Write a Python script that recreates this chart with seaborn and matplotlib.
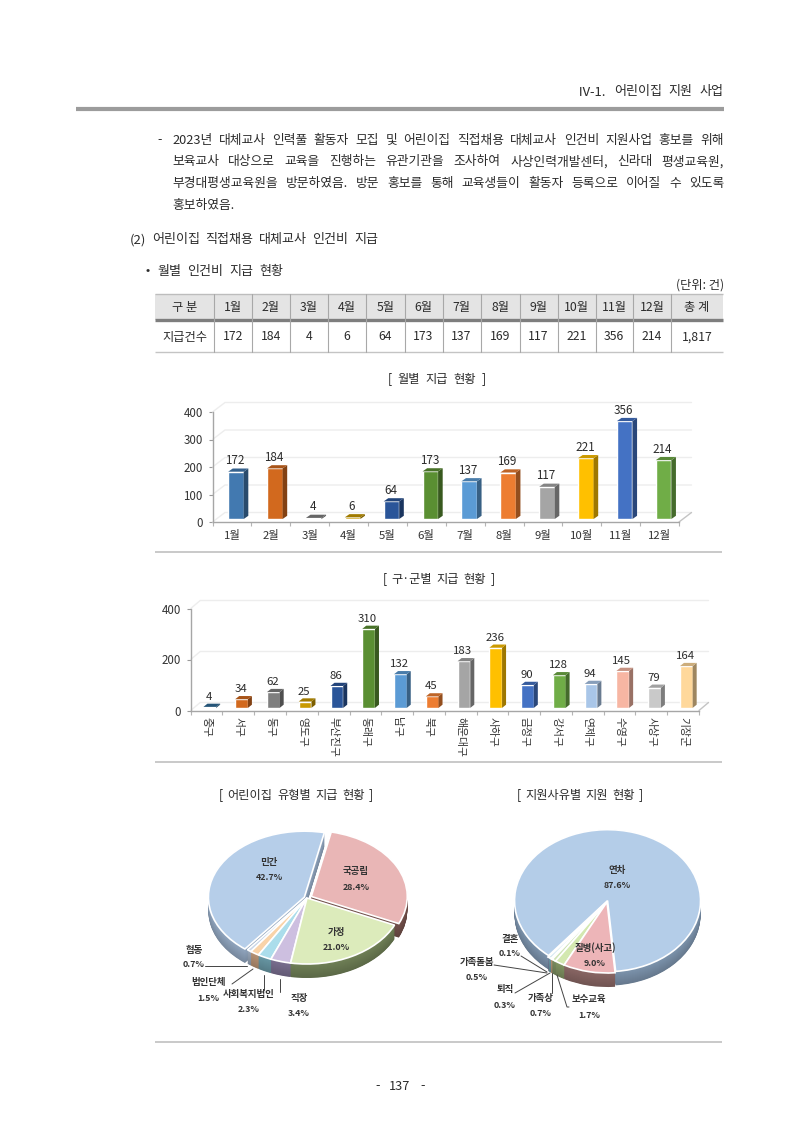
import matplotlib
matplotlib.use("Agg")
import matplotlib.pyplot as plt
import matplotlib.colors as mcolors
from matplotlib.patches import Polygon, Rectangle
from matplotlib.transforms import Affine2D, IdentityTransform
import seaborn as sns

W, H = 800, 1131
FONT = ['Noto Sans CJK KR', 'DejaVu Sans']

# Monthly payments
months = ['1월', '2월', '3월', '4월', '5월', '6월', '7월', '8월', '9월', '10월', '11월', '12월']
monthly_counts = [172, 184, 4, 6, 64, 173, 137, 169, 117, 221, 356, 214]
monthly_colors = ['#4279B0', '#D2691E', '#7F7F7F', '#C99A00', '#2A5599', '#5A8F32',
                  '#5B9BD5', '#ED7D31', '#A5A5A5', '#FFC000', '#4472C4', '#70AD47']

# Payments by district
districts = ['중구', '서구', '동구', '영도구', '부산진구', '동래구', '남구', '북구',
             '해운대구', '사하구', '금정구', '강서구', '연제구', '수영구', '사상구', '기장군']
district_counts = [4, 34, 62, 25, 86, 310, 132, 45, 183, 236, 90, 128, 94, 145, 79, 164]
district_colors = ['#2E6A96', '#D2691E', '#7F7F7F', '#C99A00', '#2A5599', '#5A8F32',
                   '#5B9BD5', '#ED7D31', '#A5A5A5', '#FFC000', '#4472C4', '#70AD47',
                   '#A9C6E8', '#F7B6A3', '#C9C9C9', '#FFD89B']

# Daycare types
type_names = ['민간', '협동', '법인단체', '사회복지법인', '직장', '가정', '국공립']
type_shares = [42.7, 0.7, 1.5, 2.3, 3.4, 21.0, 28.4]
type_colors = ['#B6CEE9', '#C9D6E8', '#F9D3A8', '#ABDDEB', '#CDBFE0', '#DCEBBB', '#E9B6B6']
type_sides = ['#8598AF', '#8A97A8', '#A8866A', '#5F8A96', '#6F6583', '#66754F', '#6A4A45']

# Support reasons
reason_names = ['연차', '결혼', '가족돌봄', '퇴직', '가족상', '보수교육', '질병(사고)']
reason_shares = [87.6, 0.1, 0.5, 0.3, 0.7, 1.7, 9.0]
reason_colors = ['#B4CDE8', '#C9B8D8', '#B8D8E8', '#E8D0B0', '#CFE3B8', '#D3E8B0', '#EDB5B8']
reason_sides = ['#72879E', '#6F6583', '#5F8A96', '#A8866A', '#6F8058', '#76875A', '#7E5E5C']

sns.set_theme(style='white')
plt.rcParams['font.family'] = FONT
plt.rcParams['axes.unicode_minus'] = False

fig = plt.figure(figsize=(W / 100, H / 100), dpi=100, facecolor='white')
page = fig.add_axes([0, 0, 1, 1], zorder=5)
page.set_xlim(0, W)
page.set_ylim(H, 0)
page.axis('off')
renderer = fig.canvas.get_renderer()

TEXT = '#2b2b2b'


def spread(words, x0, x1, y, size=9.2, color=TEXT):
    """Set a line of words so that it fills x0..x1 by widening the gaps."""
    items = [page.text(x0, y, w, fontsize=size, color=color, va='center', ha='left') for w in words]
    widths = [t.get_window_extent(renderer).width for t in items]
    gap = (x1 - x0 - sum(widths)) / max(len(words) - 1, 1)
    x = x0
    for t, w in zip(items, widths):
        t.set_x(x)
        x += w + gap


def rule(x0, x1, y, color='#C9C9C9', lw=1.4):
    page.plot([x0, x1], [y, y], color=color, lw=lw, solid_capstyle='butt')


def shade(color, k):
    r, g, b = mcolors.to_rgb(color)
    return (r * k, g * k, b * k)


# Running head and body copy
spread('Ⅳ-1. 어린이집 지원 사업'.split(), 578, 724, 92, size=9.4)
rule(76, 724, 109, color='#9C9C9C', lw=3.0)
page.text(157, 140, '-', fontsize=9, color=TEXT, va='center')
spread('2023년 대체교사 인력풀 활동자 모집 및 어린이집 직접채용 대체교사 인건비 지원사업 홍보를 위해'.split(), 172, 724, 140.5)
spread('보육교사 대상으로 교육을 진행하는 유관기관을 조사하여 사상인력개발센터, 신라대 평생교육원,'.split(), 172, 724, 162)
spread('부경대평생교육원을 방문하였음. 방문 홍보를 통해 교육생들이 활동자 등록으로 이어질 수 있도록'.split(), 172, 724, 183.5)
page.text(172, 205, '홍보하였음.', fontsize=9.2, color=TEXT, va='center')
spread('(2) 어린이집 직접채용 대체교사 인건비 지급'.split(), 130, 378, 240, size=9.4)
page.text(145, 271, '•', fontsize=9, color=TEXT, va='center')
spread('월별 인건비 지급 현황'.split(), 157, 283, 271, size=9.4)
page.text(724, 285, '(단위: 건)', fontsize=8.8, color=TEXT, va='center', ha='right')

# Summary table
col_edges = [155, 214, 252, 290, 328, 366, 404.5, 442.5, 480.5, 519.5, 557.5, 595.5, 633, 671, 723]
head_cells = ['구 분'] + months + ['총 계']
row_cells = ['지급건수'] + [str(v) for v in monthly_counts] + [f'{sum(monthly_counts):,}']
page.add_patch(Rectangle((col_edges[0], 294), col_edges[-1] - col_edges[0], 25.5,
                         facecolor='#E4E4E4', edgecolor='none'))
rule(col_edges[0], col_edges[-1], 293.6, color='#BDBDBD', lw=1.0)
rule(col_edges[0], col_edges[-1], 320.3, color='#7E7E7E', lw=2.4)
rule(col_edges[0], col_edges[-1], 352, color='#C4C4C4', lw=1.0)
for x in col_edges[1:-1]:
    page.plot([x, x], [294, 352], color='#A8A8A8', lw=0.8)
for i, (h, c) in enumerate(zip(head_cells, row_cells)):
    xm = (col_edges[i] + col_edges[i + 1]) / 2
    page.text(xm, 307, h, fontsize=8.8, color=TEXT, ha='center', va='center')
    page.text(xm, 337, c, fontsize=8.8, color=TEXT, ha='center', va='center')

# Section titles and separators
spread('[ 월별 지급 현황 ]'.split(), 388, 486, 379, size=8.8)
spread('[ 구·군별 지급 현황 ]'.split(), 383, 495, 579, size=8.8)
spread('[ 어린이집 유형별 지급 현황 ]'.split(), 219, 373, 795, size=8.8)
spread('[ 지원사유별 지원 현황 ]'.split(), 517, 643, 795, size=8.8)
rule(155, 722, 552)
rule(155, 722, 762)
rule(155, 722, 1042)
spread('- 137 -'.split(), 375, 425, 1086, size=9.2)


def bar_chart(names, values, colors, box, ymax, yticks, front, depth, wall, val_size, label_gap):
    """Column chart with a faux 3D look: extruded bars over a receding wall."""
    left, right, top, bottom = box
    ax = fig.add_axes([left / W, 1 - bottom / H, (right - left) / W, (bottom - top) / H], zorder=2)
    ax.patch.set_alpha(0)
    sns.barplot(x=names, y=values, hue=names, palette=colors, legend=False, width=0.4,
                saturation=1, ax=ax, zorder=3)
    ax.set_xlim(-0.5, len(names) - 0.5)
    ax.set_ylim(0, ymax)
    ax.set_yticks(yticks)
    ax.set_xticks([i + 0.5 for i in range(-1, len(names))], minor=True)
    ax.tick_params(axis='x', which='major', length=0, pad=5, colors='#333333')
    ax.tick_params(axis='x', which='minor', length=3, width=0.8, color='#B5B5B5', bottom=True)
    ax.tick_params(axis='y', length=3, width=0.8, color='#9A9A9A', left=True, pad=4, labelsize=8.3,
                   labelcolor='#333333')
    for s in ('top', 'right'):
        ax.spines[s].set_visible(False)
    for s in ('left', 'bottom'):
        ax.spines[s].set_color('#A6A6A6')
        ax.spines[s].set_linewidth(1.0)

    # Receding wall: gridlines, floor and side edges in display space
    to_px = ax.transData.transform
    wx, wy = wall
    for t in yticks:
        x0, y0 = to_px((-0.5, t))
        x1, y1 = to_px((len(names) - 0.5, t))
        ax.plot([x0, x0 + wx, x1 + wx], [y0, y0 + wy, y1 + wy], transform=IdentityTransform(),
                color='#EDEDED', lw=1.0, clip_on=False, zorder=1)
    x1, y1 = to_px((len(names) - 0.5, 0))
    ax.plot([x1, x1 + wx], [y1, y1 + wy], transform=IdentityTransform(),
            color='#C4C4C4', lw=1.0, clip_on=False, zorder=1)

    # Bars sit a little behind the axis plane and gain a side and a top face
    shift = Affine2D().translate(*front)
    dx, dy = depth
    for bar, val, col in zip(list(ax.patches), values, colors):
        x0, y0 = to_px((bar.get_x(), 0))
        x1, y1 = to_px((bar.get_x() + bar.get_width(), val))
        x0 += front[0]
        x1 += front[0]
        y0 += front[1]
        y1 += front[1]
        bar.set_transform(ax.transData + shift)
        bar.set_clip_on(False)
        side = Polygon([(x1, y0), (x1 + dx, y0 + dy), (x1 + dx, y1 + dy), (x1, y1)],
                       facecolor=shade(col, 0.62), edgecolor='none', transform=IdentityTransform(),
                       clip_on=False, zorder=3)
        lid = Polygon([(x0, y1), (x1, y1), (x1 + dx, y1 + dy), (x0 + dx, y1 + dy)],
                      facecolor=shade(col, 0.8), edgecolor='none', transform=IdentityTransform(),
                      clip_on=False, zorder=3)
        ax.add_patch(side)
        ax.add_patch(lid)
        ax.annotate(str(val), (bar.get_x() + bar.get_width() / 2, val),
                    xytext=(front[0] - 1, front[1] + label_gap), textcoords='offset pixels',
                    ha='center', va='center', fontsize=val_size, color='#2b2b2b',
                    annotation_clip=False, zorder=4)
    return ax


ax1 = bar_chart(months, monthly_counts, monthly_colors, (212.5, 679, 412, 522), 400,
                [0, 100, 200, 300, 400], (4, 3), (4.6, 3.2), (12.5, 9.5), 8.4, 11)
ax1.tick_params(axis='x', labelsize=8.2)
ax1.tick_params(axis='x', which='major', pad=6)

ax2 = bar_chart(districts, district_counts, district_colors, (190.7, 699, 608.5, 710.5), 400,
                [0, 200, 400], (3.2, 2.6), (4, 3.2), (9.5, 8), 8.2, 10)
ax2.set_xticks(range(len(districts)))
ax2.set_xticklabels(districts, rotation=-90, fontsize=7.8, va='top', ha='center')
ax2.tick_params(axis='x', which='major', pad=5)


def slab_pie(shares, colors, sides, explode, start, centre, rx, ry, depth):
    """Flat pie squashed into an ellipse, stacked over darker copies to give it thickness."""
    cx, cy = centre
    ax = fig.add_axes([(cx - 1.25 * rx) / W, 1 - (cy + 1.6 * ry) / H,
                       2.5 * rx / W, 2.85 * ry / H], zorder=2)
    ax.patch.set_alpha(0)
    steps = int(depth * 2)
    for k in range(steps, 0, -1):
        offset = k / 2 / ry
        tone = 0.9 + 0.2 * (1 - k / steps)
        faces = [tuple(min(1, c * tone) for c in mcolors.to_rgb(s)) for s in sides]
        ax.pie(shares, colors=faces, explode=explode, startangle=start, counterclock=True,
               center=(0, -offset), radius=1, wedgeprops={'linewidth': 0})
    ax.pie(shares, colors=colors, explode=explode, startangle=start, counterclock=True,
           radius=1, wedgeprops={'linewidth': 1.2, 'edgecolor': 'white'})
    ax.set_aspect('auto')
    ax.set_xlim(-1.25, 1.25)
    ax.set_ylim(-1.6, 1.25)
    ax.axis('off')
    return ax


slab_pie(type_shares, type_colors, type_sides, [0.03, 0, 0, 0, 0, 0, 0.05], 78,
         (307, 898), 96, 66, 14)
slab_pie(reason_shares, reason_colors, reason_sides, [0.02, 0, 0, 0, 0, 0, 0], -85,
         (607, 902), 93, 71, 14)


def pie_label(name, share, x, y1, y2):
    page.text(x, y1, name, fontsize=6.8, fontweight='bold', color='#333333', ha='center', va='center')
    page.text(x, y2, f'{share:.1f}%', fontsize=6.4, fontweight='bold', color='#333333', ha='center', va='center')


def leader(xs, ys):
    page.plot(xs, ys, color='#444444', lw=0.7)


pie_label(type_names[0], type_shares[0], 269, 862, 877)
pie_label(type_names[6], type_shares[6], 356, 871, 887)
pie_label(type_names[5], type_shares[5], 336, 932, 947)
pie_label(type_names[1], type_shares[1], 194, 950, 964.5)
pie_label(type_names[2], type_shares[2], 208, 982, 998.5)
pie_label(type_names[3], type_shares[3], 249, 994.5, 1009)
pie_label(type_names[4], type_shares[4], 299, 998.5, 1013.5)
leader([205, 247], [966, 966])
leader([232, 253], [984, 969])
leader([263.5, 263.5], [975, 990])
leader([279.5, 279.5], [979, 992])

pie_label(reason_names[0], reason_shares[0], 617, 870, 885)
pie_label(reason_names[6], reason_shares[6], 595, 948, 963)
pie_label(reason_names[1], reason_shares[1], 510, 939, 954)
pie_label(reason_names[2], reason_shares[2], 477, 962, 978)
pie_label(reason_names[3], reason_shares[3], 505, 989, 1005)
pie_label(reason_names[4], reason_shares[4], 541, 998, 1013)
pie_label(reason_names[5], reason_shares[5], 589, 999, 1015)
leader([521, 547], [956, 972])
leader([494, 547], [965, 973])
leader([515, 550], [993, 973])
leader([552, 552], [973, 993])
leader([557, 567, 569], [975, 1007, 1007])

fig.savefig('out.png', dpi=100, facecolor='white')
